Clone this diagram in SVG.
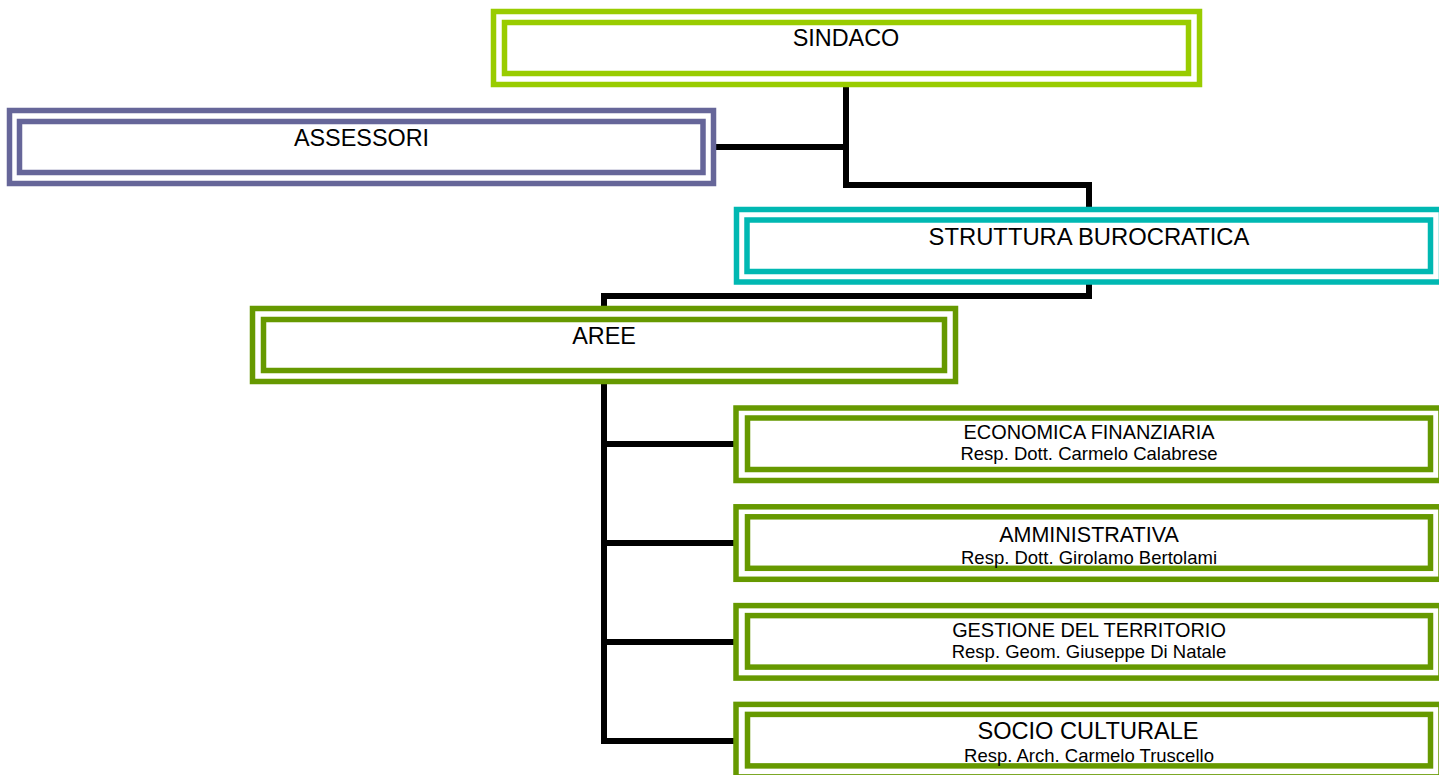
<svg xmlns="http://www.w3.org/2000/svg" width="1439" height="775" viewBox="0 0 1439 775">
<style>
.o{fill:#fff;stroke-width:5.5}
.i{fill:none;stroke-width:5.5}
.g1{stroke:#99CC00}
.pu{stroke:#666699}
.te{stroke:#00B8B2}
.g2{stroke:#669900}
.c{fill:none;stroke:#000;stroke-width:6;stroke-linejoin:miter;stroke-linecap:square}
text{font-family:"Liberation Sans",Arial,sans-serif;fill:#000;text-anchor:middle}
.big{font-size:23.4px}
.r{font-size:18.5px}
</style>
<rect width="1439" height="775" fill="#fff"/>
<g id="connectors">
<polyline class="c" points="846,87 846,185 1089,185 1089,208"/>
<line class="c" x1="716" y1="147" x2="846" y2="147"/>
<polyline class="c" points="1089,285 1089,296 604,296 604,741 734,741"/>
<line class="c" x1="604" y1="444" x2="734" y2="444"/>
<line class="c" x1="604" y1="543" x2="734" y2="543"/>
<line class="c" x1="604" y1="642" x2="734" y2="642"/>
</g>
<g id="sindaco">
<rect class="o g1" x="493.5" y="11.5" width="706" height="73"/>
<rect class="i g1" x="504.5" y="22.5" width="684" height="51"/>
<text class="big" x="846" y="46">SINDACO</text>
</g>
<g id="assessori">
<rect class="o pu" x="9.5" y="110.5" width="704" height="73"/>
<rect class="i pu" x="19.5" y="121.5" width="683.5" height="51"/>
<text class="big" x="361.5" y="146">ASSESSORI</text>
</g>
<g id="struttura">
<rect class="o te" x="736.5" y="209.5" width="705" height="72.5"/>
<rect class="i te" x="747" y="220" width="683.5" height="51.5"/>
<text x="1089" y="245" font-size="23.8">STRUTTURA BUROCRATICA</text>
</g>
<g id="aree">
<rect class="o g2" x="252.5" y="308.5" width="703" height="73"/>
<rect class="i g2" x="263.5" y="319.5" width="681" height="51"/>
<text class="big" x="604" y="344">AREE</text>
</g>
<g id="economica">
<rect class="o g2" x="736" y="408" width="705" height="72.5"/>
<rect class="i g2" x="747.5" y="418" width="683" height="51.5"/>
<text x="1089" y="439.3" font-size="19.9">ECONOMICA FINANZIARIA</text>
<text class="r" x="1089" y="460">Resp. Dott. Carmelo Calabrese</text>
</g>
<g id="amministrativa">
<rect class="o g2" x="736" y="506.8" width="705" height="72.5"/>
<rect class="i g2" x="747.5" y="516.8" width="683" height="51.5"/>
<text x="1089" y="541.7" font-size="21.5">AMMINISTRATIVA</text>
<text class="r" x="1089" y="564">Resp. Dott. Girolamo Bertolami</text>
</g>
<g id="gestione">
<rect class="o g2" x="736" y="605.6" width="705" height="72.5"/>
<rect class="i g2" x="747.5" y="615.6" width="683" height="51.5"/>
<text x="1089" y="636.7" font-size="19.9">GESTIONE DEL TERRITORIO</text>
<text class="r" x="1089" y="658.3">Resp. Geom. Giuseppe Di Natale</text>
</g>
<g id="socio">
<rect class="o g2" x="736" y="704.4" width="705" height="72.5"/>
<rect class="i g2" x="747.5" y="714.4" width="683" height="51.5"/>
<text x="1088" y="739" font-size="23.6">SOCIO CULTURALE</text>
<text class="r" x="1089" y="761.7">Resp. Arch. Carmelo Truscello</text>
</g>
</svg>
